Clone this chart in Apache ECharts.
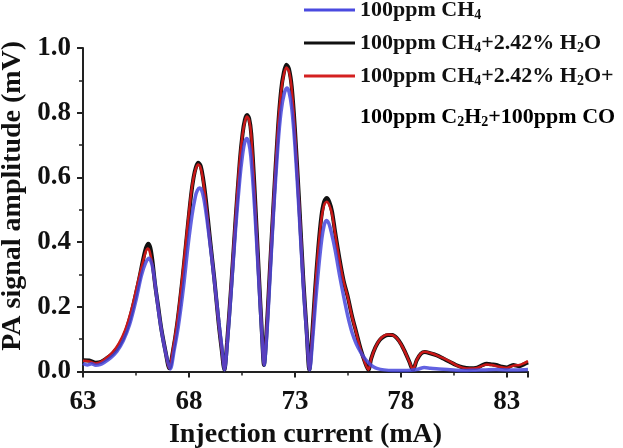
<!DOCTYPE html>
<html>
<head>
<meta charset="utf-8">
<script src="https://cdn.jsdelivr.net/npm/echarts@6/dist/echarts.min.js"></script>
<style>
html,body{margin:0;padding:0;background:#fff;}
#c{width:623px;height:448px;}
</style>
</head>
<body>
<div id="c"></div>
<script>
// Injection current (mA), PA signal amplitude (mV)
const xTicks = [63, 68, 73, 78, 83];
const yTicks = [0.0, 0.2, 0.4, 0.6, 0.8, 1.0];
const seriesNames = ['100ppm CH4', '100ppm CH4+2.42% H2O', '100ppm CH4+2.42% H2O+100ppm C2H2+100ppm CO'];

const blueData = [
[63.0,0.025],[63.2,0.020],[63.4,0.024],[63.6,0.019],[63.8,0.021],[64.0,0.028],[64.3,0.042],[64.6,0.062],[64.9,0.095],[65.2,0.145],[65.5,0.220],[65.75,0.295],[65.95,0.335],[66.12,0.350],[66.25,0.332],[66.35,0.295],[66.45,0.245],[66.6,0.170],[66.8,0.090],[67.0,0.030],[67.12,0.008],
[67.3,0.065],[67.5,0.140],[67.75,0.265],[67.95,0.385],[68.15,0.485],[68.3,0.540],[68.4,0.560],[68.5,0.567],[68.6,0.560],[68.7,0.535],[68.85,0.470],[69.05,0.365],[69.25,0.250],[69.45,0.130],[69.58,0.060],[69.68,0.005],
[69.82,0.095],[70.0,0.255],[70.2,0.440],[70.4,0.595],[70.52,0.665],[70.62,0.705],[70.72,0.720],[70.82,0.708],[70.92,0.665],[71.1,0.505],[71.3,0.275],[71.45,0.105],[71.55,0.020],
[71.67,0.110],[71.82,0.285],[72.0,0.500],[72.2,0.700],[72.35,0.805],[72.5,0.860],[72.62,0.876],[72.72,0.865],[72.85,0.815],[73.0,0.700],[73.2,0.490],[73.4,0.260],[73.55,0.120],[73.7,0.005],
[73.82,0.085],[73.97,0.210],[74.12,0.320],[74.27,0.410],[74.38,0.452],[74.48,0.467],[74.6,0.458],[74.72,0.430],[74.9,0.375],[75.1,0.300],[75.3,0.232],[75.5,0.170],[75.7,0.120],[75.9,0.085],[76.1,0.060],[76.3,0.040],[76.5,0.025],[76.7,0.015],[76.9,0.009],[77.2,0.005],[77.6,0.003],[78.0,0.003],[78.5,0.004],[78.8,0.007],[79.1,0.012],[79.4,0.010],[79.8,0.008],[80.2,0.006],[80.6,0.004],[81.0,0.003],[81.5,0.004],[82.0,0.005],[82.5,0.006],[83.0,0.005],[83.5,0.005],[84.0,0.006]
];

const blackData = [
[63.0,0.035],[63.3,0.034],[63.6,0.027],[63.85,0.030],[64.1,0.040],[64.4,0.055],[64.7,0.080],[65.0,0.120],[65.3,0.185],[65.6,0.270],[65.85,0.350],[65.97,0.382],[66.08,0.395],[66.18,0.382],[66.28,0.340],[66.4,0.270],[66.55,0.200],[66.7,0.130],[66.9,0.060],[67.07,0.010],
[67.25,0.065],[67.45,0.150],[67.7,0.290],[67.9,0.420],[68.1,0.545],[68.22,0.600],[68.33,0.632],[68.44,0.645],[68.55,0.636],[68.66,0.600],[68.8,0.530],[69.0,0.405],[69.2,0.285],[69.4,0.150],[69.55,0.065],[69.67,0.005],
[69.8,0.090],[70.0,0.270],[70.2,0.470],[70.4,0.650],[70.53,0.735],[70.64,0.778],[70.74,0.793],[70.84,0.782],[70.94,0.735],[71.1,0.560],[71.3,0.300],[71.45,0.110],[71.54,0.020],
[71.65,0.110],[71.8,0.290],[72.0,0.530],[72.2,0.750],[72.35,0.870],[72.48,0.925],[72.6,0.948],[72.72,0.935],[72.85,0.880],[73.0,0.750],[73.2,0.525],[73.4,0.280],[73.55,0.130],[73.68,0.005],
[73.8,0.100],[73.95,0.250],[74.1,0.380],[74.25,0.480],[74.38,0.525],[74.5,0.536],[74.62,0.525],[74.75,0.495],[74.9,0.430],[75.1,0.350],[75.3,0.280],[75.5,0.230],[75.7,0.170],[75.9,0.120],[76.1,0.070],[76.3,0.030],[76.47,0.005],
[76.6,0.040],[76.8,0.075],[77.0,0.097],[77.2,0.108],[77.4,0.113],[77.6,0.113],[77.8,0.104],[78.0,0.086],[78.2,0.060],[78.4,0.030],[78.57,0.005],
[78.75,0.035],[78.95,0.055],[79.13,0.060],[79.4,0.056],[79.7,0.050],[80.0,0.040],[80.3,0.030],[80.6,0.020],[80.9,0.013],[81.25,0.010],[81.6,0.012],[81.85,0.020],[82.05,0.024],[82.3,0.022],[82.5,0.020],[82.75,0.015],[83.0,0.012],[83.3,0.020],[83.6,0.016],[83.8,0.022],[84.0,0.028]
];

const redData = [
[63.0,0.033],[63.3,0.031],[63.6,0.025],[63.85,0.030],[64.1,0.042],[64.4,0.060],[64.7,0.088],[65.0,0.130],[65.3,0.195],[65.6,0.280],[65.85,0.345],[65.96,0.370],[66.05,0.380],[66.15,0.370],[66.27,0.330],[66.4,0.265],[66.55,0.195],[66.7,0.128],[66.9,0.058],[67.06,0.010],
[67.25,0.072],[67.45,0.158],[67.7,0.300],[67.9,0.430],[68.1,0.550],[68.22,0.600],[68.33,0.628],[68.43,0.640],[68.54,0.632],[68.65,0.598],[68.8,0.522],[69.0,0.400],[69.2,0.280],[69.4,0.148],[69.55,0.065],[69.67,0.005],
[69.8,0.095],[70.0,0.280],[70.2,0.480],[70.4,0.655],[70.53,0.732],[70.64,0.773],[70.74,0.788],[70.84,0.777],[70.94,0.730],[71.1,0.555],[71.3,0.298],[71.45,0.110],[71.54,0.020],
[71.65,0.115],[71.8,0.300],[72.0,0.540],[72.2,0.755],[72.35,0.865],[72.48,0.918],[72.6,0.940],[72.72,0.928],[72.85,0.873],[73.0,0.745],[73.2,0.520],[73.4,0.275],[73.55,0.125],[73.68,0.005],
[73.8,0.100],[73.95,0.250],[74.1,0.375],[74.25,0.470],[74.38,0.515],[74.5,0.525],[74.62,0.515],[74.75,0.487],[74.9,0.425],[75.1,0.345],[75.3,0.278],[75.5,0.228],[75.7,0.168],[75.9,0.118],[76.1,0.068],[76.3,0.028],[76.47,0.005],
[76.6,0.040],[76.8,0.075],[77.0,0.098],[77.2,0.110],[77.4,0.114],[77.6,0.113],[77.8,0.104],[78.0,0.085],[78.2,0.060],[78.4,0.030],[78.57,0.006],
[78.75,0.036],[78.95,0.056],[79.13,0.061],[79.4,0.057],[79.7,0.050],[80.0,0.041],[80.3,0.031],[80.6,0.020],[80.9,0.012],[81.25,0.009],[81.6,0.011],[81.85,0.018],[82.05,0.022],[82.3,0.020],[82.5,0.017],[82.75,0.013],[83.0,0.011],[83.3,0.018],[83.6,0.020],[83.8,0.025],[84.0,0.032]
];

const X0 = xTicks[0];           // axis origin (mA)
const XMAX = 84;
const shift = d => d.map(p => [p[0] - X0, p[1]]);

const FONT = "'Liberation Serif', 'Times New Roman', serif";
const rich = {
  n: {fontFamily: FONT, fontWeight: 'bold', fontSize: 22, color: '#111', lineHeight: 24},
  s: {fontFamily: FONT, fontWeight: 'bold', fontSize: 14, color: '#111', lineHeight: 14, verticalAlign: 'bottom'}
};
const legendRich = {
  [seriesNames[0]]: '{n|100ppm CH}{s|4}',
  [seriesNames[1]]: '{n|100ppm CH}{s|4}{n|+2.42% H}{s|2}{n|O}',
  [seriesNames[2]]: '{n|100ppm CH}{s|4}{n|+2.42% H}{s|2}{n|O+}'
};

const chart = echarts.init(document.getElementById('c'), null, {renderer: 'canvas'});
chart.setOption({
  animation: false,
  backgroundColor: '#fff',
  grid: {left: 83, right: 95, top: 48, bottom: 76.5, containLabel: false, outerBoundsMode: 'none'},
  legend: {
    orient: 'vertical',
    left: 304, top: -1, padding: 0,
    itemWidth: 51, itemHeight: 3, itemGap: 10,
    icon: 'rect',
    data: [seriesNames[0], seriesNames[1], seriesNames[2]],
    formatter: name => legendRich[name],
    textStyle: {rich: rich},
    selectedMode: false
  },
  graphic: [{
    type: 'text', left: 360, top: 106,
    style: {text: '{n|100ppm C}{s|2}{n|H}{s|2}{n|+100ppm CO}', rich: rich}
  }],
  xAxis: {
    type: 'value', min: 0, max: XMAX - X0, interval: 5,
    axisLine: {show: true, onZero: false, lineStyle: {color: '#222', width: 2}},
    axisTick: {show: true, inside: false, length: 6, lineStyle: {color: '#222', width: 2}},
    minorTick: {show: true, splitNumber: 2, length: 4, lineStyle: {color: '#222', width: 1.5}},
    splitLine: {show: false},
    axisLabel: {formatter: v => String(v + X0), fontFamily: FONT, fontWeight: 'bold', fontSize: 27, color: '#111', margin: 17},
    name: 'Injection current (mA)', nameLocation: 'middle', nameGap: 43,
    nameTextStyle: {fontFamily: FONT, fontWeight: 'bold', fontSize: 28, color: '#111'}
  },
  yAxis: {
    type: 'value', min: yTicks[0], max: yTicks[yTicks.length-1], interval: 0.2,
    axisLine: {show: true, lineStyle: {color: '#222', width: 2}},
    axisTick: {show: true, inside: false, length: 6, lineStyle: {color: '#222', width: 2}},
    minorTick: {show: true, splitNumber: 2, length: 4, lineStyle: {color: '#222', width: 1.5}},
    splitLine: {show: false},
    axisLabel: {formatter: v => v.toFixed(1), fontFamily: FONT, fontWeight: 'bold', fontSize: 27, color: '#111', margin: 12},
    name: 'PA signal amplitude (mV)', nameLocation: 'middle', nameGap: 45,
    nameTextStyle: {fontFamily: FONT, fontWeight: 'bold', fontSize: 28, color: '#111', padding: [0,0,0,28]}
  },
  series: [
    {name: seriesNames[1], type: 'line', data: shift(blackData), showSymbol: false, smooth: 0.3, z: 2,
     color: '#111', lineStyle: {color: '#111', width: 4}},
    {name: seriesNames[2], type: 'line', data: shift(redData), showSymbol: false, smooth: 0.3, z: 3,
     color: '#d42020', lineStyle: {color: '#c81818', width: 2.5}},
    {name: seriesNames[0], type: 'line', data: shift(blueData), showSymbol: false, smooth: 0.3, z: 4,
     color: '#4a4ae0', lineStyle: {color: '#4646dc', width: 3.5, opacity: 0.85}}
  ]
});
</script>
</body>
</html>
